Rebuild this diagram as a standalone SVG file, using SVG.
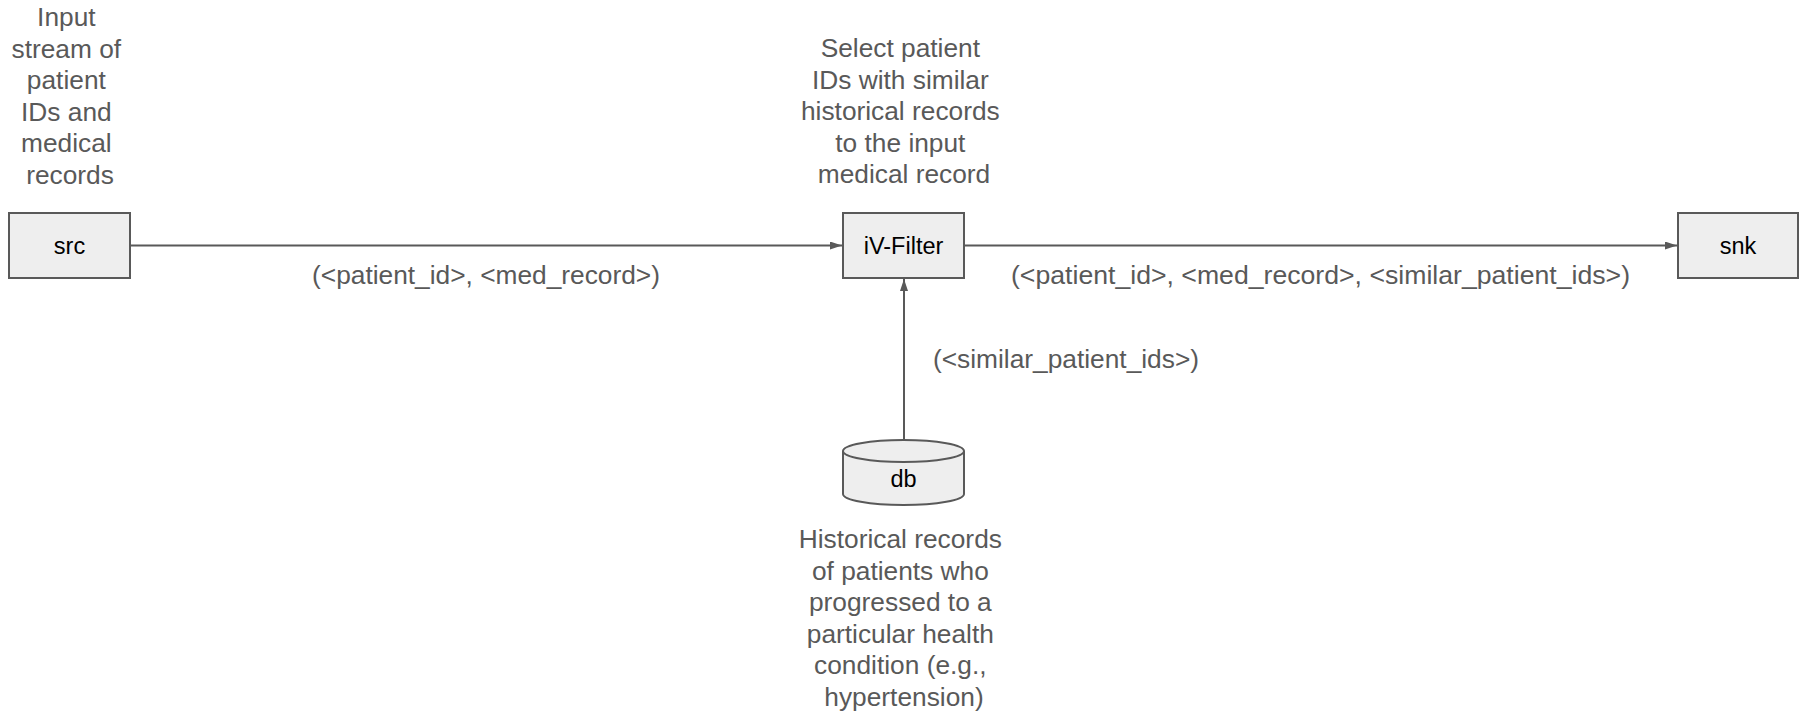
<svg xmlns="http://www.w3.org/2000/svg" width="1807" height="713" viewBox="0 0 1807 713">
<style>
  .node { fill: #eeeeee; stroke: #595959; stroke-width: 2; }
  .nlabel { font-family: "Liberation Sans", Arial, sans-serif; font-size: 23.5px; fill: #000000; text-anchor: middle; }
  .note { font-family: "Liberation Sans", Arial, sans-serif; font-size: 26.3px; fill: #595959; text-anchor: middle; }
  .elabel { font-family: "Liberation Sans", Arial, sans-serif; font-size: 26.3px; fill: #595959; }
  .edge { stroke: #595959; stroke-width: 2; fill: none; marker-end: url(#arrow); }
</style>
<defs>
  <marker id="arrow" markerUnits="userSpaceOnUse" markerWidth="12" markerHeight="8" refX="12" refY="4" orient="auto">
    <path d="M0,0 L12,4 L0,8 Z" fill="#595959"/>
  </marker>
</defs>
<rect width="1807" height="713" fill="#ffffff"/>

<g id="connectors">
  <line class="edge" x1="131" y1="245.5" x2="842" y2="245.5"/>
  <line class="edge" x1="965" y1="245.5" x2="1677" y2="245.5"/>
  <line class="edge" x1="904" y1="440" x2="904" y2="279"/>
  <text class="elabel" x="486" y="284" text-anchor="middle">(&lt;patient_id&gt;, &lt;med_record&gt;)</text>
  <text class="elabel" x="1011" y="284" textLength="619" lengthAdjust="spacingAndGlyphs">(&lt;patient_id&gt;, &lt;med_record&gt;, &lt;similar_patient_ids&gt;)</text>
  <text class="elabel" x="933" y="368">(&lt;similar_patient_ids&gt;)</text>
</g>

<g id="src">
  <rect class="node" x="9" y="213" width="121" height="65"/>
  <text class="nlabel" x="69.5" y="254">src</text>
  <text class="note">
    <tspan x="70" y="26">Input</tspan>
    <tspan x="70" y="57.6">stream of</tspan>
    <tspan x="70" y="89.2">patient</tspan>
    <tspan x="70" y="120.8">IDs and</tspan>
    <tspan x="70" y="152.4">medical</tspan>
    <tspan x="70" y="184">records</tspan>
  </text>
</g>

<g id="ivfilter">
  <rect class="node" x="843" y="213" width="121" height="65"/>
  <text class="nlabel" x="903.5" y="254">iV-Filter</text>
  <text class="note">
    <tspan x="904" y="57">Select patient</tspan>
    <tspan x="904" y="88.6">IDs with similar</tspan>
    <tspan x="904" y="120.2">historical records</tspan>
    <tspan x="904" y="151.8">to the input</tspan>
    <tspan x="904" y="183.4">medical record</tspan>
  </text>
</g>

<g id="snk">
  <rect class="node" x="1678" y="213" width="120" height="65"/>
  <text class="nlabel" x="1738" y="254">snk</text>
</g>

<g id="db">
  <path class="node" d="M843,451 A60.5,11 0 0 1 964,451 L964,494 A60.5,11 0 0 1 843,494 Z"/>
  <path class="node" d="M843,451 A60.5,11 0 0 0 964,451" fill="none"/>
  <text class="nlabel" x="903.5" y="487">db</text>
  <text class="note">
    <tspan x="904" y="548">Historical records</tspan>
    <tspan x="904" y="579.6">of patients who</tspan>
    <tspan x="904" y="611.2">progressed to a</tspan>
    <tspan x="904" y="642.8">particular health</tspan>
    <tspan x="904" y="674.4">condition (e.g.,</tspan>
    <tspan x="904" y="706">hypertension)</tspan>
  </text>
</g>
</svg>
